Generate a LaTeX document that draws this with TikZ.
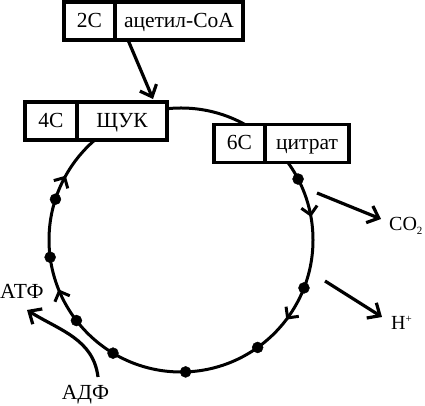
\documentclass[tikz,border=0pt]{standalone}
\usepackage{fontspec}
\setmainfont{Liberation Serif}
\usetikzlibrary{positioning,arrows.meta,decorations.markings}
\tikzset{
  cell/.style={draw, line width=3.5pt, fill=white, minimum height=38pt, inner sep=0pt, outer sep=0pt,
    text height=14pt, text depth=1pt},
  barb/.style={line width=3.2pt, -{Straight Barb[length=10pt,width=18pt]}},
  lbl/.style={inner sep=0pt},
}
\newcommand{\tinyidx}[2]{\raisebox{#1}{\fontsize{11}{11}\selectfont #2}}
\begin{document}
\begin{tikzpicture}[x=1pt, y=1pt, font=\fontsize{21.5}{24}\selectfont]
            \useasboundingbox (0,0) rectangle (425,406);

            \coordinate (c) at (181,166);
            \draw[line width=3pt, postaction={decorate}, decoration={markings,
                mark=at position 0.103 with {\arrow{Straight Barb[length=8pt,width=16pt]}},
                mark=at position 0.439 with {\arrow{Straight Barb[length=8pt,width=16pt]}},
                mark=at position 0.581 with {\arrow{Straight Barb[length=8pt,width=16pt]}},
                mark=at position 0.972 with {\arrow{Straight Barb[length=8pt,width=16pt]}}}]
                (313,166) arc (360:0:132);

            \filldraw[black] (c) ++(27.5:132) circle (5.5);
            \filldraw[black] (c) ++(162:132) circle (5.5);
            \filldraw[black] (c) ++(187.5:132) circle (5.5);
            \filldraw[black] (c) ++(217.6:132) circle (5.5);
            \filldraw[black] (c) ++(239:132) circle (5.5);
            \filldraw[black] (c) ++(272:132) circle (5.5);
            \filldraw[black] (c) ++(305.5:132) circle (5.5);
            \filldraw[black] (c) ++(338.7:132) circle (5.5);

            \node[cell, minimum width=51pt] (acC) at (89.5,385) {2C};
            \node[cell, minimum width=128pt, right=0pt of acC] (acN) {ацетил-CoA};
            \node[cell, minimum width=52pt] (shC) at (51,285) {4C};
            \node[cell, minimum width=90pt, right=0pt of shC] (shN) {ЩУК};
            \node[cell, minimum width=51pt] (ciC) at (239.5,262.5) {6C};
            \node[cell, minimum width=84pt, right=0pt of ciC] (ciN) {цитрат};

            \draw[barb] ([xshift=13pt]acN.south west) -- ([xshift=-14pt,yshift=3pt]shN.north east);

            \node[lbl, anchor=west, font=\fontsize{20}{24}\selectfont] (co2) at (389,180.5) {CO\tinyidx{-4pt}{2}};
            \node[lbl, anchor=west, font=\fontsize{20}{24}\selectfont] (hp) at (391,83.5) {H\tinyidx{7pt}{+}};
            \node[lbl, anchor=west] (atf) at (0,114.5) {АТФ};
            \node[lbl] (adf) at (85.5,11) {АДФ};

            \coordinate (co2a) at (317,213);
            \coordinate (co2b) at (381,187);
            \coordinate (hpa) at (325,125);
            \coordinate (hpb) at (382,89);
            \coordinate (adfa) at (98,29);
            \coordinate (atfb) at (27,96);

            \draw[barb] (co2a) -- (co2b);
            \draw[barb] (hpa) -- (hpb);
            \draw[barb] (adfa) to[out=97, in=-32] (atfb);
        \end{tikzpicture}
\end{document}
